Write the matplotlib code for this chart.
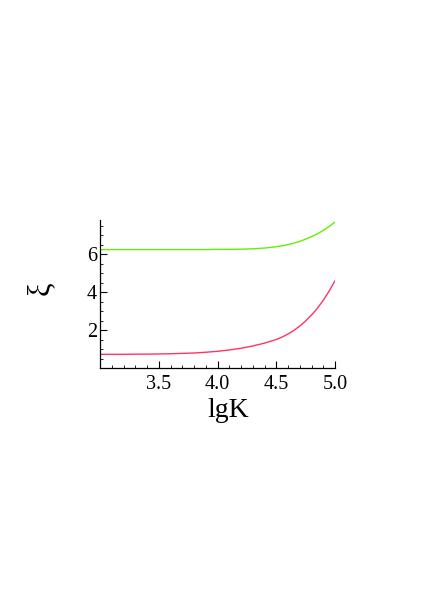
import numpy as np
import matplotlib
matplotlib.use('Agg')
import matplotlib.pyplot as plt
from matplotlib.ticker import MultipleLocator

# values
lgK = [3.0, 3.1, 3.2, 3.3, 3.4, 3.5, 3.6, 3.7, 3.8, 3.9, 4.0,
       4.1, 4.2, 4.3, 4.4, 4.5, 4.55, 4.6, 4.65, 4.7, 4.75, 4.8,
       4.85, 4.9, 4.95, 5.0]
xi_green = [6.24, 6.24, 6.24, 6.24, 6.24, 6.24, 6.24, 6.24, 6.24, 6.24, 6.25,
            6.25, 6.26, 6.28, 6.32, 6.39, 6.44, 6.50, 6.58, 6.67, 6.79, 6.92,
            7.07, 7.25, 7.46, 7.69]
xi_red = [0.72, 0.72, 0.72, 0.73, 0.73, 0.74, 0.75, 0.77, 0.79, 0.83, 0.88,
          0.95, 1.04, 1.16, 1.31, 1.50, 1.63, 1.79, 1.98, 2.21, 2.48, 2.79,
          3.15, 3.57, 4.05, 4.60]

plt.rcParams['font.family'] = ['Liberation Serif', 'DejaVu Serif']

fig = plt.figure(figsize=(4.36, 6.16), dpi=100)
ax = fig.add_axes([0.2294, 0.4026, 0.539, 0.2403])

ax.plot(lgK, xi_green, color='#66ee00', lw=1.0)
ax.plot(lgK, xi_red, color='#ff3366', lw=1.0)

ax.set_xlim(3.0, 5.0)
ax.set_ylim(0, 7.8)
for s in ['top', 'right']:
    ax.spines[s].set_visible(False)
ax.spines['left'].set_linewidth(0.9)
ax.spines['bottom'].set_linewidth(0.9)

ax.set_xticks([3.5, 4.0, 4.5, 5.0])
ax.set_xticklabels(['3.5', '4.0', '4.5', '5.0'])
ax.xaxis.set_minor_locator(MultipleLocator(0.1))
ax.set_yticks([2, 4, 6])
ax.yaxis.set_minor_locator(MultipleLocator(0.5))
ax.tick_params(which='major', direction='in', length=5, width=0.8, labelsize=14.5)
ax.tick_params(which='minor', direction='in', length=2.5, width=0.6)
ax.tick_params(axis='x', pad=5)
ax.tick_params(axis='y', pad=2)

ax.set_xlabel('lgK', fontsize=20, va='top')
ax.xaxis.set_label_coords(0.545, -0.2)
ax.set_ylabel('ξ', fontsize=22, va='center', ha='center')
ax.yaxis.set_label_coords(-0.255, 0.54)

fig.savefig('out.png', dpi=100)
